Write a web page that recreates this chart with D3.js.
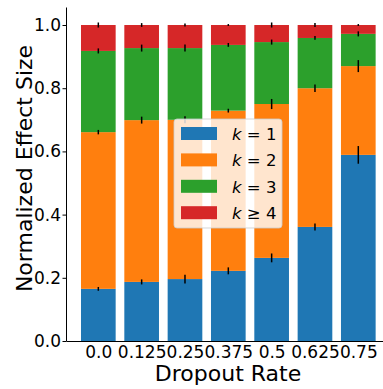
<!DOCTYPE html>
<html>
<head>
<meta charset="utf-8">
<script src="https://cdn.jsdelivr.net/npm/d3@7"></script>
<style>
  html, body { margin: 0; padding: 0; background: #fff; }
  svg { display: block; font-family: "DejaVu Sans", sans-serif; }
</style>
</head>
<body>
<svg id="chart" width="383" height="389"></svg>
<script>
// Dropout rates on the x axis
const categories = ["0.0", "0.125", "0.25", "0.375", "0.5", "0.625", "0.75"];

// Share of the effect carried by each order k (segment heights)
const k1 = [0.165, 0.187, 0.196, 0.222, 0.263, 0.361, 0.589];
const k2 = [0.496, 0.512, 0.504, 0.507, 0.487, 0.439, 0.281];
const k3 = [0.257, 0.228, 0.227, 0.208, 0.196, 0.159, 0.102];
const k4 = [0.082, 0.073, 0.073, 0.063, 0.054, 0.041, 0.028];

// Error (half-length) at the top of each stacked segment
const k1Err = [0.006, 0.008, 0.014, 0.011, 0.014, 0.011, 0.028];
const k2Err = [0.007, 0.011, 0.011, 0.006, 0.016, 0.012, 0.019];
const k3Err = [0.008, 0.011, 0.011, 0.006, 0.008, 0.006, 0.008];
const k4Err = [0.008, 0.006, 0.005, 0.003, 0.008, 0.006, 0.003];

const yTicks = [0.0, 0.2, 0.4, 0.6, 0.8, 1.0];
const seriesNames = ["k = 1", "k = 2", "k = 3", "k \u2265 4"];
const colors = ["#1f77b4", "#ff7f0e", "#2ca02c", "#d62728"];

const series = [k1, k2, k3, k4];
const errors = [k1Err, k2Err, k3Err, k4Err];

const svg = d3.select("#chart");
const plotLeft = 66, plotBottom = 341, plotTop = 7;
const tickFont = 17;

const x = d3.scaleLinear().domain([-0.746, 6.746]).range([plotLeft, plotLeft + 7.492 * 43.33]);
const y = d3.scaleLinear().domain([0, 1.057]).range([plotBottom, plotTop]);
const barW = x(0.8) - x(0);

// Build stacked segment records
const stacked = series.map((vals, si) => vals.map((v, i) => {
  let base = 0;
  for (let s = 0; s < si; s++) base += series[s][i];
  return { i, base, end: base + v, err: errors[si][i] };
}));

const g = svg.append("g");
stacked.forEach((rows, si) => {
  g.selectAll(null).data(rows).enter().append("rect")
    .attr("x", d => x(d.i) - barW / 2)
    .attr("width", barW)
    .attr("y", d => y(d.end))
    .attr("height", d => y(d.base) - y(d.end))
    .attr("fill", colors[si]);
});

// Error bars drawn over all segments
stacked.forEach(rows => {
  g.selectAll(null).data(rows).enter().append("line")
    .attr("x1", d => x(d.i)).attr("x2", d => x(d.i))
    .attr("y1", d => y(d.end - d.err)).attr("y2", d => y(d.end + d.err))
    .attr("stroke", "#000").attr("stroke-width", 1.5);
});

// Axes
const yAxis = d3.axisLeft(y).tickValues(yTicks).tickFormat(d3.format(".1f")).tickSize(3.5).tickSizeOuter(0);
const ya = svg.append("g").attr("transform", `translate(${plotLeft},0)`).call(yAxis);
ya.select(".domain").attr("stroke", "#000").attr("stroke-width", 1);
ya.selectAll(".tick text").attr("font-size", tickFont).attr("fill", "#000").attr("x", -5)
  .attr("font-family", "DejaVu Sans");
ya.selectAll(".tick line").attr("stroke", "#000");

const xAxis = d3.axisBottom(x).tickValues(d3.range(categories.length))
  .tickFormat(i => categories[i]).tickSize(0).tickSizeOuter(0);
const xa = svg.append("g").attr("transform", `translate(0,${plotBottom})`).call(xAxis);
xa.select(".domain").attr("stroke", "#000").attr("stroke-width", 1);
xa.selectAll(".tick text").attr("font-size", tickFont).attr("fill", "#000").attr("y", 5)
  .attr("font-family", "DejaVu Sans");

// Axis titles
svg.append("text").attr("x", 228).attr("y", 381).attr("text-anchor", "middle")
  .attr("font-size", 22).text("Dropout Rate");
svg.append("text").attr("transform", "translate(32,168.5) rotate(-90)")
  .attr("text-anchor", "middle").attr("font-size", 22).text("Normalized Effect Size");

// Legend
const lg = svg.append("g");
lg.append("rect").attr("x", 174).attr("y", 119).attr("width", 108).attr("height", 109)
  .attr("rx", 3).attr("fill", "#fff").attr("fill-opacity", 0.8)
  .attr("stroke", "#ccc").attr("stroke-opacity", 0.8);
seriesNames.forEach((name, i) => {
  const yy = 127 + i * 26.4;
  lg.append("rect").attr("x", 181).attr("y", yy).attr("width", 36).attr("height", 13)
    .attr("fill", colors[i]);
  const t = lg.append("text").attr("x", 232).attr("y", yy + 13).attr("font-size", 16.5);
  t.append("tspan").attr("font-style", "italic").text(name.slice(0, 1));
  t.append("tspan").text(name.slice(1));
});
</script>
</body>
</html>
